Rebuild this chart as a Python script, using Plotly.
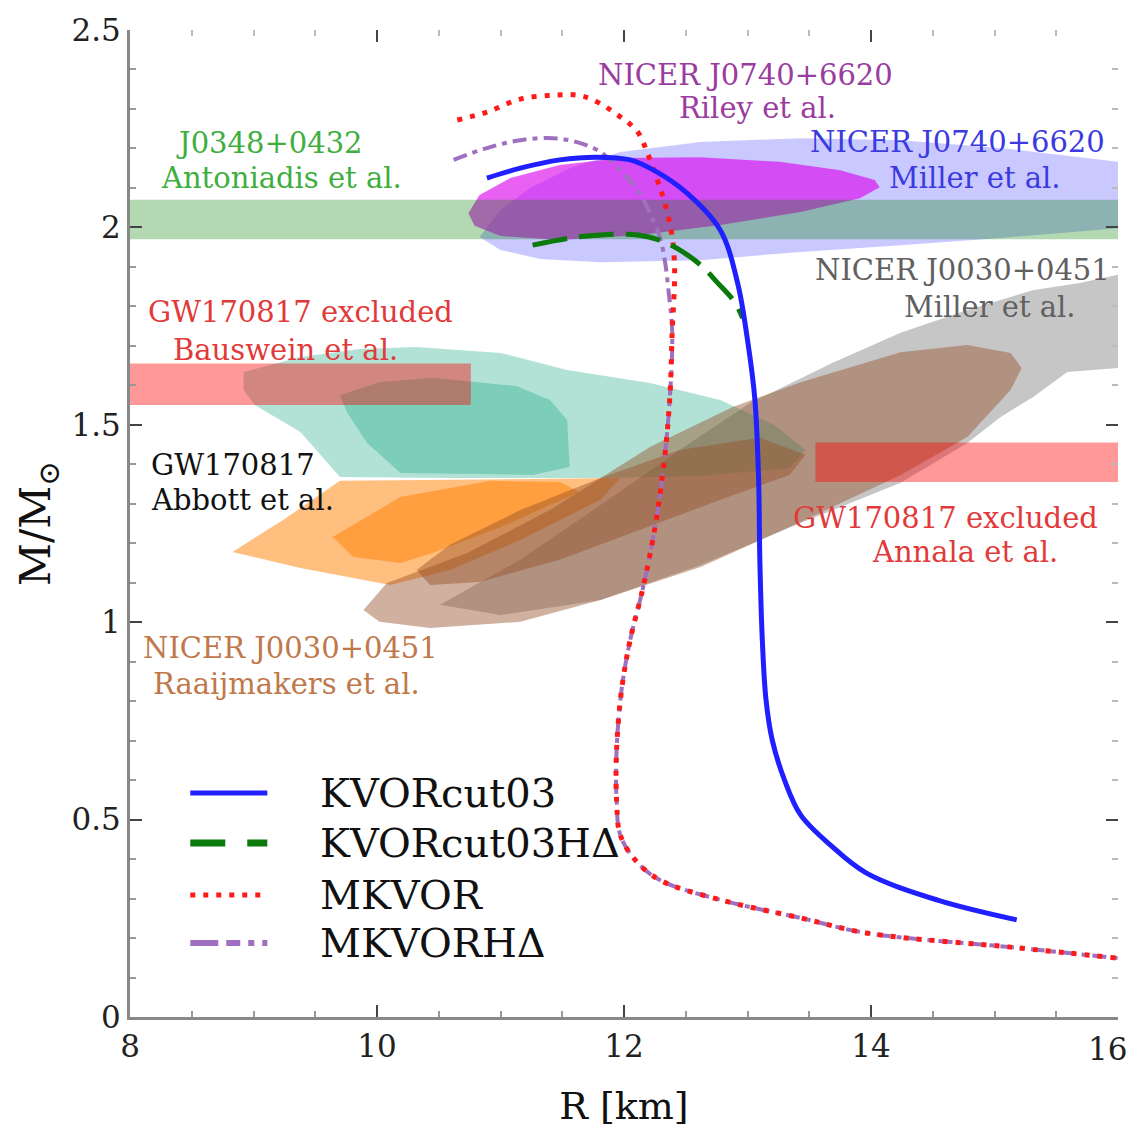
import plotly.graph_objects as go

# ---------------- EoS mass-radius curves (R in km, M in solar masses) ----------------
KVOR_R = [10.89, 11.16, 11.48, 11.78, 12.05, 12.24, 12.51, 12.78, 12.92, 13.00, 13.06, 13.09,
          13.10, 13.12, 13.15, 13.20, 13.30, 13.43, 13.67, 13.96, 14.54, 15.18]
KVOR_M = [2.125, 2.150, 2.171, 2.178, 2.171, 2.145, 2.087, 1.993, 1.859, 1.715, 1.563, 1.360,
          1.158, 0.955, 0.803, 0.702, 0.600, 0.512, 0.436, 0.365, 0.296, 0.246]

KVORH_R = [11.26, 11.56, 11.81, 12.11, 12.29, 12.45, 12.62, 12.76, 12.90, 12.96]
KVORH_M = [1.955, 1.973, 1.981, 1.981, 1.968, 1.943, 1.905, 1.859, 1.809, 1.770]

MKVOR_R = [10.65, 10.89, 11.16, 11.43, 11.62, 11.75, 11.97, 12.11, 12.19, 12.27, 12.33, 12.39,
           12.41, 12.39, 12.37, 12.32, 12.24, 12.15, 12.05, 11.98, 11.94, 11.94, 11.97, 12.09,
           12.29, 12.79, 13.43, 13.96, 15.13, 16.00]
MKVOR_M = [2.272, 2.292, 2.325, 2.335, 2.335, 2.323, 2.280, 2.242, 2.188, 2.120, 2.062, 1.976,
           1.892, 1.735, 1.563, 1.393, 1.221, 1.082, 0.955, 0.828, 0.676, 0.549, 0.461, 0.398,
           0.347, 0.296, 0.251, 0.213, 0.177, 0.149]

MKVORH_R = [10.62, 10.89, 11.16, 11.43, 11.62, 11.81, 11.97, 12.11, 12.21, 12.29, 12.33, 12.36,
            12.39, 12.37, 12.32, 12.24, 12.15, 12.05, 11.98, 11.94, 11.94, 11.97, 12.09,
            12.29, 12.79, 13.43, 13.96, 15.13, 16.00]
MKVORH_M = [2.171, 2.201, 2.221, 2.226, 2.216, 2.191, 2.145, 2.095, 2.036, 1.976, 1.917, 1.841,
            1.735, 1.563, 1.393, 1.221, 1.082, 0.955, 0.828, 0.676, 0.549, 0.461, 0.398,
            0.347, 0.296, 0.251, 0.213, 0.177, 0.149]

# ---------------- observational constraints ----------------
# horizontal bands: (R range, M range)
J0348_R, J0348_M = [8.0, 16.0], [1.97, 2.07]
BAUSWEIN_R, BAUSWEIN_M = [8.0, 10.76], [1.55, 1.655]
ANNALA_R, ANNALA_M = [13.55, 16.0], [1.355, 1.455]

# NICER J0740+6620, Miller et al.
J0740_MIL_R = [10.83, 11.00, 11.24, 11.56, 11.97, 12.62, 13.43, 14.24, 15.05, 15.53, 16.0,
               16.0, 15.05, 14.24, 13.43, 12.62, 11.81, 11.32, 11.00]
J0740_MIL_M = [1.976, 2.044, 2.100, 2.150, 2.191, 2.216, 2.226, 2.221, 2.201, 2.183, 2.166,
               1.998, 1.973, 1.955, 1.938, 1.917, 1.912, 1.920, 1.943]

# NICER J0740+6620, Riley et al.
J0740_RIL_R = [10.74, 10.83, 11.08, 11.48, 11.97, 12.62, 13.26, 13.75, 14.03, 14.07, 13.91,
               13.43, 12.78, 12.13, 11.48, 11.00, 10.79]
J0740_RIL_M = [2.036, 2.082, 2.125, 2.158, 2.176, 2.178, 2.166, 2.145, 2.120, 2.102, 2.074,
               2.039, 2.006, 1.981, 1.968, 1.978, 2.004]

# NICER J0030+0451, Miller et al.
J0030_MIL_R = [10.51, 11.16, 11.81, 12.45, 13.02, 13.69, 14.24, 14.78, 15.31, 15.69, 16.0,
               16.0, 15.59, 15.31, 15.05, 14.78, 14.24, 13.43, 12.62, 11.81, 11.00]
J0030_MIL_M = [1.044, 1.158, 1.297, 1.436, 1.555, 1.657, 1.733, 1.791, 1.841, 1.859, 1.880,
               1.644, 1.634, 1.570, 1.520, 1.454, 1.353, 1.251, 1.145, 1.056, 1.018]

# NICER J0030+0451, Raaijmakers et al. (outer and inner contours)
J0030_RAA_OUT_R = [9.89, 10.08, 10.73, 11.40, 12.21, 12.88, 13.43, 14.24, 14.78, 15.13, 15.22,
                   15.13, 14.78, 14.24, 13.43, 12.62, 11.81, 11.16, 10.43, 10.02]
J0030_RAA_OUT_M = [1.031, 1.099, 1.175, 1.284, 1.444, 1.545, 1.608, 1.684, 1.702, 1.682, 1.644,
                   1.588, 1.469, 1.373, 1.254, 1.140, 1.056, 1.001, 0.985, 1.001]
J0030_RAA_IN_R = [10.32, 10.59, 11.16, 11.81, 12.45, 13.10, 13.47, 13.34, 12.78, 12.13, 11.48,
                  10.83, 10.43]
J0030_RAA_IN_M = [1.132, 1.196, 1.284, 1.365, 1.436, 1.467, 1.424, 1.373, 1.310, 1.234, 1.158,
                  1.102, 1.094]

# GW170817, Abbott et al.: heavier component (outer / inner)
GW_HEAVY_OUT_R = [8.92, 9.38, 9.86, 10.32, 11.00, 11.54, 12.21, 12.78, 13.22, 13.47, 13.34,
                  12.62, 11.81, 10.59, 9.70, 9.38, 9.01, 8.92]
GW_HEAVY_OUT_M = [1.634, 1.672, 1.692, 1.697, 1.682, 1.639, 1.606, 1.563, 1.499, 1.436, 1.391,
                  1.370, 1.365, 1.365, 1.368, 1.482, 1.550, 1.588]
GW_HEAVY_IN_R = [9.70, 10.02, 10.45, 11.13, 11.40, 11.54, 11.56, 11.26, 10.19, 9.92, 9.76]
GW_HEAVY_IN_M = [1.575, 1.608, 1.619, 1.598, 1.563, 1.512, 1.393, 1.373, 1.378, 1.454, 1.530]

# GW170817, Abbott et al.: lighter component (outer / inner)
GW_LIGHT_OUT_R = [8.83, 9.24, 9.70, 10.59, 11.40, 11.97, 11.81, 11.16, 10.59, 10.11, 9.38]
GW_LIGHT_OUT_M = [1.178, 1.259, 1.358, 1.360, 1.363, 1.365, 1.310, 1.208, 1.132, 1.094, 1.137]
GW_LIGHT_IN_R = [9.64, 10.19, 10.92, 11.48, 11.64, 11.00, 10.45, 10.19, 9.81]
GW_LIGHT_IN_M = [1.216, 1.317, 1.358, 1.355, 1.330, 1.241, 1.175, 1.150, 1.165]

# ---------------- axis ticks ----------------
R_TICKS = [8, 10, 12, 14]
R_LAST_TICK = 16
M_TICKS = [0, 0.5, 1, 1.5, 2, 2.5]
M_TICK_TEXT = ["0", "0.5", "1", "1.5", "2", "2.5"]

# ---------------- text labels: (text, R, M, colour, anchor) ----------------
LABELS = [
    ("J0348+0432", 9.13, 2.214, "#3fae3f", "center"),
    ("Antoniadis et al.", 9.23, 2.125, "#3fae3f", "center"),
    ("NICER J0740+6620", 12.98, 2.386, "#9a3ca0", "center"),
    ("Riley et al.", 13.08, 2.302, "#9a3ca0", "center"),
    ("NICER J0740+6620", 14.70, 2.216, "#3a3ae0", "center"),
    ("Miller et al.", 14.84, 2.125, "#3a3ae0", "center"),
    ("NICER J0030+0451", 14.74, 1.892, "#606060", "center"),
    ("Miller et al.", 14.96, 1.798, "#606060", "center"),
    ("GW170817 excluded", 9.38, 1.786, "#e23a3a", "center"),
    ("Bauswein et al.", 9.26, 1.689, "#e23a3a", "center"),
    ("GW170817", 8.15, 1.398, "#111111", "left"),
    ("Abbott et al.", 8.15, 1.310, "#111111", "left"),
    ("GW170817 excluded", 14.60, 1.264, "#e23a3a", "center"),
    ("Annala et al.", 14.76, 1.178, "#e23a3a", "center"),
    ("NICER J0030+0451", 9.30, 0.935, "#c0784a", "center"),
    ("Raaijmakers et al.", 9.27, 0.843, "#c0784a", "center"),
]

# legend entries: (name, colour, dash, width)
LEGEND = [
    ("KVORcut03", "#1f1fff", "solid", 5),
    ("KVORcut03HΔ", "#0a7a0a", "35px,22px", 7),
    ("MKVOR", "#ff1a1a", "5px,8px", 5),
    ("MKVORHΔ", "#a070c0", "28px,8px,14px,8px,6px,8px", 6),
]

SERIF = "DejaVu Serif"

fig = go.Figure()


def region(r, m, color):
    fig.add_trace(go.Scatter(x=r + [r[0]], y=m + [m[0]], mode="lines", fill="toself",
                             fillcolor=color, line=dict(width=0), hoverinfo="skip",
                             showlegend=False))


def band(rr, mm, color):
    region([rr[0], rr[1], rr[1], rr[0]], [mm[0], mm[0], mm[1], mm[1]], color)


GRAY = "rgba(120,120,120,0.42)"
TEAL = "rgba(0,160,120,0.30)"
ORANGE = "rgba(255,127,0,0.50)"
BROWN = "rgba(150,80,40,0.45)"

region(J0030_MIL_R, J0030_MIL_M, GRAY)
region(GW_HEAVY_OUT_R, GW_HEAVY_OUT_M, TEAL)
region(GW_HEAVY_IN_R, GW_HEAVY_IN_M, TEAL)
region(GW_LIGHT_OUT_R, GW_LIGHT_OUT_M, ORANGE)
region(GW_LIGHT_IN_R, GW_LIGHT_IN_M, ORANGE)
region(J0030_RAA_OUT_R, J0030_RAA_OUT_M, BROWN)
region(J0030_RAA_IN_R, J0030_RAA_IN_M, BROWN)
band(BAUSWEIN_R, BAUSWEIN_M, "rgba(255,0,0,0.40)")
band(ANNALA_R, ANNALA_M, "rgba(255,0,0,0.40)")
region(J0740_MIL_R, J0740_MIL_M, "rgba(100,100,255,0.35)")
region(J0740_RIL_R, J0740_RIL_M, "rgba(220,0,235,0.62)")
band(J0348_R, J0348_M, "rgba(0,128,0,0.30)")

# EoS curves
fig.add_trace(go.Scatter(x=MKVORH_R, y=MKVORH_M, mode="lines", name="MKVORHΔ",
                         line=dict(color="#a070c0", width=4, dash="14px,6px,5px,6px",
                                   shape="spline"),
                         showlegend=False))
fig.add_trace(go.Scatter(x=MKVOR_R, y=MKVOR_M, mode="lines", name="MKVOR",
                         line=dict(color="#ff1a1a", width=5, dash="5px,8px", shape="spline"),
                         showlegend=False))
fig.add_trace(go.Scatter(x=KVORH_R, y=KVORH_M, mode="lines", name="KVORcut03HΔ",
                         line=dict(color="#0a7a0a", width=5, dash="35px,12px", shape="spline"),
                         showlegend=False))
fig.add_trace(go.Scatter(x=KVOR_R, y=KVOR_M, mode="lines", name="KVORcut03",
                         line=dict(color="#1f1fff", width=5, shape="spline"),
                         showlegend=False))

for text, r, m, col, anchor in LABELS:
    fig.add_annotation(x=r, y=m, text=text, showarrow=False, xanchor=anchor, yanchor="middle",
                       font=dict(family=SERIF, size=29, color=col))

# hand-drawn legend in paper coordinates
row_y = [0.2269, 0.1763, 0.1236, 0.0750]
for (name, col, dash, w), yy in zip(LEGEND, row_y):
    fig.add_shape(type="line", xref="paper", yref="paper", x0=0.061, x1=0.139, y0=yy, y1=yy,
                  line=dict(color=col, width=w, dash=dash))
    fig.add_annotation(xref="paper", yref="paper", x=0.190, y=yy, text=name, showarrow=False,
                       xanchor="left", yanchor="middle",
                       font=dict(family=SERIF, size=40, color="#111111"))

tickfont = dict(family=SERIF, size=31, color="#222222")

# the last R tick label sits at the right border; keep it inside the page
fig.add_annotation(x=R_LAST_TICK, y=0, xref="x", yref="y", text=str(R_LAST_TICK),
                   showarrow=False, xanchor="right", yanchor="top", xshift=11, yshift=-12,
                   font=tickfont)

# mirrored tick axes (top and right), no labels
fig.add_trace(go.Scatter(x=[8], y=[0], xaxis="x2", yaxis="y2", mode="markers",
                         marker=dict(size=1, opacity=0), showlegend=False, hoverinfo="skip"))

fig.update_layout(
    width=1131, height=1135,
    margin=dict(l=130, r=13, t=30, b=118, autoexpand=False),
    paper_bgcolor="white", plot_bgcolor="white",
    showlegend=False,
    xaxis=dict(range=[8, 16], tickvals=R_TICKS + [R_LAST_TICK],
               ticktext=[str(v) for v in R_TICKS] + [""], ticks="inside", ticklen=12,
               tickwidth=2, tickcolor="#444444", showline=True, linecolor="#888888",
               linewidth=3, showgrid=False, zeroline=False, tickfont=tickfont,
               ticklabeloverflow="allow", automargin=False,
               minor=dict(ticks="inside", dtick=0.5, ticklen=6, tickwidth=1.5,
                          tickcolor="#999999"),
               title=dict(text="R [km]", font=dict(family=SERIF, size=38, color="#111111"),
                          standoff=30)),
    yaxis=dict(range=[0, 2.5], tickvals=M_TICKS, ticktext=M_TICK_TEXT, ticks="inside",
               ticklen=12, tickwidth=2, tickcolor="#444444", showline=True,
               linecolor="#888888", linewidth=3, showgrid=False, zeroline=False,
               tickfont=tickfont, ticklabeloverflow="allow", automargin=False,
               minor=dict(ticks="inside", dtick=0.1, ticklen=6, tickwidth=1.5,
                          tickcolor="#999999"),
               title=dict(text="M/M<sub>⊙</sub>", font=dict(family=SERIF, size=42,
                                                             color="#111111"),
                          standoff=8)),
    xaxis2=dict(range=[8, 16], overlaying="x", side="top", tickvals=R_TICKS + [R_LAST_TICK],
                ticks="inside", ticklen=12, tickwidth=2, tickcolor="#444444",
                showticklabels=False, showline=False, showgrid=False, zeroline=False,
                automargin=False,
                minor=dict(ticks="inside", dtick=0.5, ticklen=6, tickwidth=1.5,
                           tickcolor="#bbbbbb")),
    yaxis2=dict(range=[0, 2.5], overlaying="y", side="right", tickvals=M_TICKS,
                ticks="inside", ticklen=12, tickwidth=2, tickcolor="#444444",
                showticklabels=False, showline=False, showgrid=False, zeroline=False,
                automargin=False,
                minor=dict(ticks="inside", dtick=0.1, ticklen=6, tickwidth=1.5,
                           tickcolor="#bbbbbb")),
)

fig.write_html("out.html")
